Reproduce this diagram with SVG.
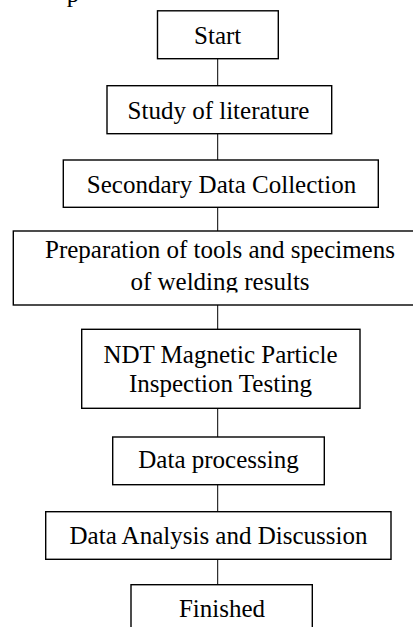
<svg xmlns="http://www.w3.org/2000/svg" width="413" height="627" viewBox="0 0 413 627">
<style>
.box{fill:#fff;stroke:#000;stroke-width:1.4}
.t{font-family:"Liberation Serif","Times New Roman",serif;font-size:25px;fill:#000;text-anchor:middle}
.c{stroke:#000;stroke-width:1;fill:none}
</style>
<defs>
<clipPath id="clipPrep"><rect x="0" y="0" width="413" height="292.5"/></clipPath>
</defs>
<rect width="413" height="627" fill="#fff"/>
<text x="73" y="1.5" class="t">p</text>
<g id="connectors">
<line class="c" x1="217.7" y1="58.7" x2="217.7" y2="85.7"/>
<line class="c" x1="217.7" y1="133.7" x2="217.7" y2="160"/>
<line class="c" x1="217.7" y1="207.3" x2="217.7" y2="231"/>
<line class="c" x1="217.7" y1="305" x2="217.7" y2="329.3"/>
<line class="c" x1="217.7" y1="408.3" x2="217.7" y2="437"/>
<line class="c" x1="217.7" y1="484.7" x2="217.7" y2="511.7"/>
<line class="c" x1="217.7" y1="559.3" x2="217.7" y2="584.7"/>
</g>
<g id="start">
<rect class="box" x="157.5" y="10.8" width="120.8" height="47.9"/>
<text class="t" x="217.7" y="44">Start</text>
</g>
<g id="study">
<rect class="box" x="107" y="85.7" width="224.7" height="48"/>
<text class="t" x="218.5" y="119.3">Study of literature</text>
</g>
<g id="secondary">
<rect class="box" x="63.3" y="160" width="315" height="47.3"/>
<text class="t" x="221.5" y="193.3">Secondary Data Collection</text>
</g>
<g id="preparation">
<rect class="box" x="13.3" y="231" width="408.7" height="74"/>
<g clip-path="url(#clipPrep)">
<text class="t" x="220" y="257.7">Preparation of tools and specimens</text>
<text class="t" x="220" y="290">of welding results</text>
</g>
</g>
<g id="ndt">
<rect class="box" x="81.7" y="329.3" width="278.3" height="79"/>
<text class="t" x="220.5" y="362.7">NDT Magnetic Particle</text>
<text class="t" x="220.5" y="391.7">Inspection Testing</text>
</g>
<g id="processing">
<rect class="box" x="112.7" y="437" width="211.6" height="47.7"/>
<text class="t" x="218.5" y="468.3">Data processing</text>
</g>
<g id="analysis">
<rect class="box" x="45.7" y="511.7" width="345.3" height="47.6"/>
<text class="t" x="218.5" y="544">Data Analysis and Discussion</text>
</g>
<g id="finished">
<rect class="box" x="131" y="584.7" width="181.3" height="60"/>
<text class="t" x="222" y="616.7">Finished</text>
</g>
</svg>
